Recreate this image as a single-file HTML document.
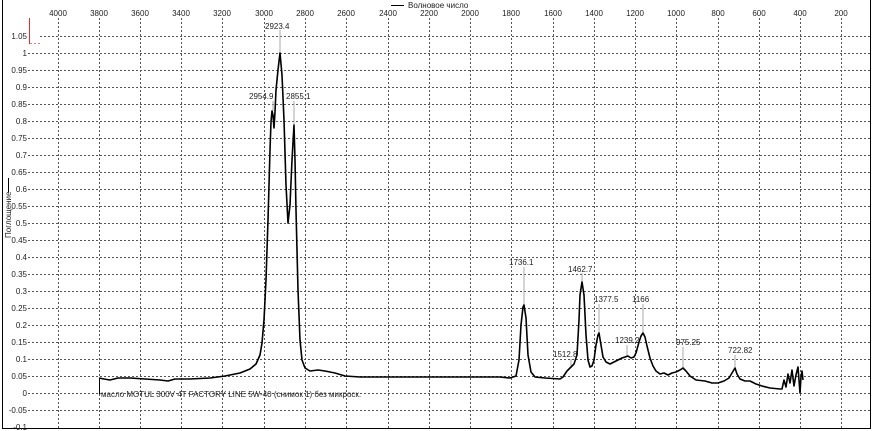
<!DOCTYPE html>
<html><head><meta charset="utf-8"><style>
html,body{margin:0;padding:0;background:#fff;}
svg{display:block;}
text{font-family:"Liberation Sans",sans-serif;font-size:8px;fill:#222;}
</style></head><body>
<svg width="876" height="431" viewBox="0 0 876 431" xmlns="http://www.w3.org/2000/svg">
<rect x="0" y="0" width="876" height="431" fill="#fff"/>
<rect x="2.5" y="-1" width="868" height="429.5" fill="none" stroke="#000" stroke-width="1"/>
<g stroke="#555" stroke-width="1" stroke-dasharray="2,2">
<line x1="58.5" y1="18" x2="58.5" y2="428"/>
<line x1="99.5" y1="18" x2="99.5" y2="428"/>
<line x1="140.5" y1="18" x2="140.5" y2="428"/>
<line x1="181.5" y1="18" x2="181.5" y2="428"/>
<line x1="222.5" y1="18" x2="222.5" y2="428"/>
<line x1="264.5" y1="18" x2="264.5" y2="428"/>
<line x1="305.5" y1="18" x2="305.5" y2="428"/>
<line x1="346.5" y1="18" x2="346.5" y2="428"/>
<line x1="388.5" y1="18" x2="388.5" y2="428"/>
<line x1="429.5" y1="18" x2="429.5" y2="428"/>
<line x1="470.5" y1="18" x2="470.5" y2="428"/>
<line x1="511.5" y1="18" x2="511.5" y2="428"/>
<line x1="553.5" y1="18" x2="553.5" y2="428"/>
<line x1="594.5" y1="18" x2="594.5" y2="428"/>
<line x1="635.5" y1="18" x2="635.5" y2="428"/>
<line x1="676.5" y1="18" x2="676.5" y2="428"/>
<line x1="718.5" y1="18" x2="718.5" y2="428"/>
<line x1="759.5" y1="18" x2="759.5" y2="428"/>
<line x1="800.5" y1="18" x2="800.5" y2="428"/>
<line x1="841.5" y1="18" x2="841.5" y2="428"/>
</g>
<g stroke="#555" stroke-width="1" stroke-dasharray="2,2">
<line x1="40" y1="36.5" x2="870" y2="36.5"/>
<line x1="28" y1="53.5" x2="870" y2="53.5"/>
<line x1="28" y1="70.5" x2="870" y2="70.5"/>
<line x1="28" y1="87.5" x2="870" y2="87.5"/>
<line x1="28" y1="104.5" x2="870" y2="104.5"/>
<line x1="28" y1="121.5" x2="870" y2="121.5"/>
<line x1="28" y1="138.5" x2="870" y2="138.5"/>
<line x1="28" y1="155.5" x2="870" y2="155.5"/>
<line x1="28" y1="172.5" x2="870" y2="172.5"/>
<line x1="28" y1="189.5" x2="870" y2="189.5"/>
<line x1="28" y1="206.5" x2="870" y2="206.5"/>
<line x1="28" y1="223.5" x2="870" y2="223.5"/>
<line x1="28" y1="240.5" x2="870" y2="240.5"/>
<line x1="28" y1="257.5" x2="870" y2="257.5"/>
<line x1="28" y1="274.5" x2="870" y2="274.5"/>
<line x1="28" y1="291.5" x2="870" y2="291.5"/>
<line x1="28" y1="308.5" x2="870" y2="308.5"/>
<line x1="28" y1="325.5" x2="870" y2="325.5"/>
<line x1="28" y1="342.5" x2="870" y2="342.5"/>
<line x1="28" y1="359.5" x2="870" y2="359.5"/>
<line x1="28" y1="376.5" x2="870" y2="376.5"/>
<line x1="28" y1="393.5" x2="870" y2="393.5"/>
<line x1="28" y1="410.5" x2="870" y2="410.5"/>
</g>
<line x1="29.5" y1="18" x2="29.5" y2="44" stroke="#e03030" stroke-width="1"/>
<line x1="30" y1="43.5" x2="42" y2="43.5" stroke="#e08080" stroke-width="1" stroke-dasharray="2,2"/>
<g text-anchor="middle">
<text x="58" y="16">4000</text><text x="99" y="16">3800</text><text x="140" y="16">3600</text>
<text x="181" y="16">3400</text><text x="222" y="16">3200</text><text x="264" y="16">3000</text>
<text x="305" y="16">2800</text><text x="346" y="16">2600</text><text x="388" y="16">2400</text>
<text x="429" y="16">2200</text><text x="470" y="16">2000</text><text x="511" y="16">1800</text>
<text x="553" y="16">1600</text><text x="594" y="16">1400</text><text x="635" y="16">1200</text>
<text x="676" y="16">1000</text><text x="718" y="16">800</text><text x="759" y="16">600</text>
<text x="800" y="16">400</text><text x="841" y="16">200</text>
</g>
<line x1="391" y1="5.5" x2="404" y2="5.5" stroke="#000" stroke-width="1"/>
<text x="408" y="8">Волновое число</text>
<g text-anchor="end">
<text x="27" y="39">1.05</text><text x="27" y="56">1</text><text x="27" y="73">0.95</text>
<text x="27" y="90">0.9</text><text x="27" y="107">0.85</text><text x="27" y="124">0.8</text>
<text x="27" y="141">0.75</text><text x="27" y="158">0.7</text><text x="27" y="175">0.65</text>
<text x="27" y="192">0.6</text><text x="27" y="209">0.55</text><text x="27" y="226">0.5</text>
<text x="27" y="243">0.45</text><text x="27" y="260">0.4</text><text x="27" y="277">0.35</text>
<text x="27" y="294">0.3</text><text x="27" y="311">0.25</text><text x="27" y="328">0.2</text>
<text x="27" y="345">0.15</text><text x="27" y="362">0.1</text><text x="27" y="379">0.05</text>
<text x="27" y="396">0</text><text x="27" y="413">-0.05</text><text x="27" y="430">-0.1</text>
</g>
<text transform="translate(11,238) rotate(-90)">Поглощение</text>
<line x1="8.5" y1="178" x2="8.5" y2="192" stroke="#000" stroke-width="1"/>
<g stroke="#aaa" stroke-width="1">
<line x1="280" y1="30" x2="280" y2="53"/>
<line x1="273" y1="101" x2="273" y2="111"/>
<line x1="294" y1="101" x2="294" y2="125"/>
<line x1="524" y1="267" x2="524" y2="305"/>
<line x1="582" y1="273" x2="582" y2="282"/>
<line x1="599" y1="304" x2="599" y2="333"/>
<line x1="643" y1="304" x2="643" y2="333"/>
<line x1="627" y1="345" x2="627" y2="357"/>
<line x1="571" y1="359" x2="571" y2="367"/>
<line x1="683" y1="347" x2="683" y2="368"/>
<line x1="735" y1="355" x2="735" y2="368"/>
</g>
<text x="265" y="29">2923.4</text>
<text x="249" y="99">2954.9</text>
<text x="286" y="99">2855.1</text>
<text x="509" y="265">1736.1</text>
<text x="568" y="272">1462.7</text>
<text x="594" y="302">1377.5</text>
<text x="632" y="302">1166</text>
<text x="615" y="343">1239.2</text>
<text x="553" y="357">1512.8</text>
<text x="676" y="345">975.25</text>
<text x="728" y="353">722.82</text>
<line x1="99.5" y1="378" x2="99.5" y2="394" stroke="#000" stroke-width="1"/>
<text x="101" y="397">масло MOTUL 300V 4T FACTORY LINE 5W-40  (снимок 1) без микроск.</text>
<polyline fill="none" stroke="#000" stroke-width="1.6" stroke-linejoin="round" points="
99,378 104,379 110,380 118,378 130,378 145,379 160,380 168,381 175,379 190,379 210,378 225,376 240,373 250,369 256,364 260,355 262,343 264,320 266,280 268,220 270,150 271,122 272,111 273,115 274,128 275,112 276,90 278,70 280,53 282,75 284,120 286,185 288,223 290,205 292,160 294,125 295,160 296,210 298,290 300,340 302,360 305,368 310,371 318,370 325,371 335,373 345,376 360,377 400,377 450,377 500,377 510,378 516,376 519,360 521,325 523,307 524,305 526,318 528,355 531,372 535,377 545,378 560,379 563,377 567,371 571,367 574,364 577,355 579,320 580,295 582,282 584,295 586,335 588,360 590,367 592,366 594,360 596,345 598,335 599,333 601,345 603,357 606,362 610,364 614,362 618,360 622,358 625,357 628,356 631,358 634,357 636,353 639,342 641,336 643,333 645,337 647,346 650,358 653,366 656,371 660,374 664,373 668,375 672,373 676,372 680,370 683,368 686,371 690,376 696,380 705,381 712,383 718,383 724,381 729,378 732,373 735,368 737,374 740,379 745,381 750,381 756,384 762,386 770,388 780,389 782,389 784,380 786,387 788,374 790,383 792,370 794,386 796,375 798,367 800,393 801,377 802,371 803,380"/>
</svg>
</body></html>
